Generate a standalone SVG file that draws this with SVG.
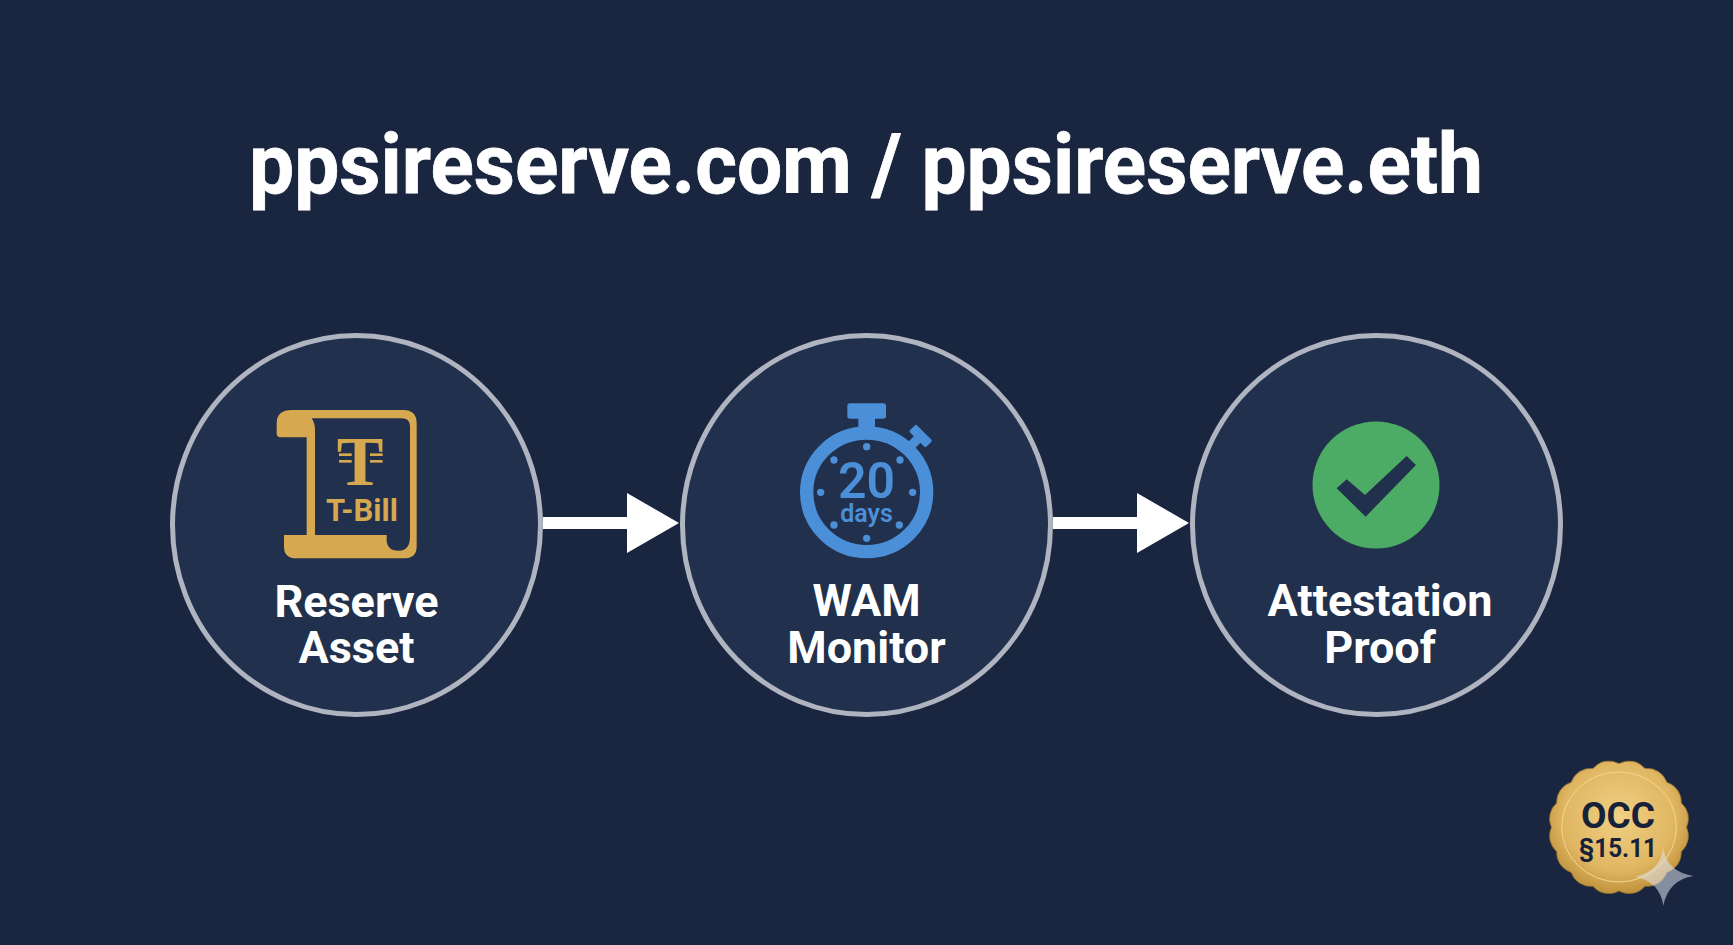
<svg xmlns="http://www.w3.org/2000/svg" width="1733" height="945" viewBox="0 0 1733 945">
<style>
text{font-family:Roboto,"Liberation Sans",sans-serif;text-anchor:middle}
.title{font-size:84px;font-weight:700;fill:#fff;stroke:#fff;stroke-width:.8}
.lbl{font-size:45px;font-weight:700;fill:#fff}
.ring{fill:#21304c;stroke:#afb4c0;stroke-width:5}
.gold{fill:#d6a84f}
.blue{fill:#4a8fd8}
.conn{stroke:#fff;stroke-width:12;fill:none;marker-end:url(#ah)}
</style>
<defs>
<marker id="ah" markerUnits="userSpaceOnUse" markerWidth="52" markerHeight="60" refX="0" refY="30" orient="auto"><path d="M0 0L52 30L0 60Z" fill="#fff"/></marker>
<radialGradient id="sg" cx="0.5" cy="0.42" r="0.62"><stop offset="0" stop-color="#f0d083"/><stop offset="0.65" stop-color="#e0b662"/><stop offset="1" stop-color="#b98a34"/></radialGradient>
</defs>
<rect width="1733" height="945" fill="#1a2640"/>
<text id="title" class="title" x="866" y="193" textLength="1234" lengthAdjust="spacingAndGlyphs">ppsireserve.com / ppsireserve.eth</text>
<g id="connectors">
<line class="conn" x1="543" y1="523" x2="627" y2="523"/>
<line class="conn" x1="1053" y1="523" x2="1137" y2="523"/>
</g>
<g id="node-reserve">
<ellipse class="ring" cx="356.5" cy="525" rx="184" ry="189.5"/>
<g transform="translate(160 320) scale(.33333)">
<path class="gold" fill-rule="evenodd" d="M395 270H730Q770 270 770 310V680Q770 715 730 715H410Q372 715 372 680V645H440V352H362Q350 352 350 340V310Q350 270 395 270ZM455 295Q465 310 465 330V645H680V665Q685 692 715 692Q750 692 750 650V320Q750 295 725 295Z"/>
<rect class="gold" x="537" y="400" width="38" height="8"/><rect class="gold" x="537" y="420" width="38" height="8"/><rect class="gold" x="630" y="400" width="38" height="8"/><rect class="gold" x="630" y="420" width="38" height="8"/>
</g>
<text x="360" y="485" font-size="70" font-weight="700" class="gold" style="font-family:'Liberation Serif',serif">T</text>
<text x="362" y="521" font-size="31" font-weight="700" class="gold">T-Bill</text>
<text class="lbl" x="356.5" y="617">Reserve</text>
<text class="lbl" x="356.5" y="663">Asset</text>
</g>
<g id="node-wam">
<ellipse class="ring" cx="866.5" cy="525" rx="184" ry="189.5"/>
<g transform="translate(670 320) scale(.33333)">
<rect class="blue" x="532" y="250" width="116" height="46" rx="8"/>
<path class="blue" d="M565 290H615V320L640 335H540L565 320Z"/>
<g transform="rotate(45 752 348)"><rect class="blue" x="717" y="333" width="70" height="30" rx="5"/><rect class="blue" x="738" y="358" width="28" height="30"/></g>
<ellipse cx="590" cy="517" rx="180" ry="178" fill="none" stroke="#4a8fd8" stroke-width="40"/>
<g class="blue"><circle cx="590" cy="380" r="11"/><circle cx="690" cy="420" r="11"/><circle cx="728" cy="517" r="11"/><circle cx="688" cy="615" r="11"/><circle cx="590" cy="655" r="11"/><circle cx="492" cy="615" r="11"/><circle cx="452" cy="517" r="11"/><circle cx="492" cy="420" r="11"/></g>
</g>
<text x="866.5" y="498" font-size="50" font-weight="600" class="blue">20</text>
<text x="866.5" y="522" font-size="25" font-weight="600" class="blue">days</text>
<text class="lbl" x="866.5" y="616">WAM</text>
<text class="lbl" x="866.5" y="663">Monitor</text>
</g>
<g id="node-attestation">
<ellipse class="ring" cx="1376.5" cy="525" rx="184" ry="189.5"/>
<circle cx="1376" cy="485" r="63.5" fill="#4cab64"/>
<g transform="translate(1180 320) scale(.33333)"><path fill="#21304c" d="M470 505L500 478L555 525L680 408L708 435L557 590Z"/></g>
<text class="lbl" x="1380" y="616">Attestation</text>
<text class="lbl" x="1380" y="663">Proof</text>
</g>
<g id="seal">
<g transform="translate(1520 740) scale(.33333)">
<path transform="translate(297 262) scale(1.04) translate(-297 -261)" fill="url(#sg)" stroke="#8a6a2a" stroke-width="2" d="M492 261A60 60 0 0 1 477 331A60 60 0 0 1 435 391A60 60 0 0 1 372 431A60 60 0 0 1 297 445A60 60 0 0 1 222 431A60 60 0 0 1 159 391A60 60 0 0 1 117 331A60 60 0 0 1 102 261A60 60 0 0 1 117 191A60 60 0 0 1 159 131A60 60 0 0 1 222 91A60 60 0 0 1 297 77A60 60 0 0 1 372 91A60 60 0 0 1 435 131A60 60 0 0 1 477 191A60 60 0 0 1 492 261Z"/>
<ellipse cx="297" cy="261" rx="172" ry="165" fill="none" stroke="#f3d68e" stroke-width="3"/>
<path d="M430 325Q440 395 520 408Q445 420 430 497Q420 425 345 410Q420 395 430 325Z" fill="#dfe4ee" fill-opacity=".55"/>
</g>
<text x="1618" y="828" font-size="37" font-weight="700" fill="#16213a">OCC</text>
<text x="1618" y="857" font-size="25" font-weight="700" fill="#16213a" textLength="78" lengthAdjust="spacingAndGlyphs">§15.11</text>
</g>
</svg>
